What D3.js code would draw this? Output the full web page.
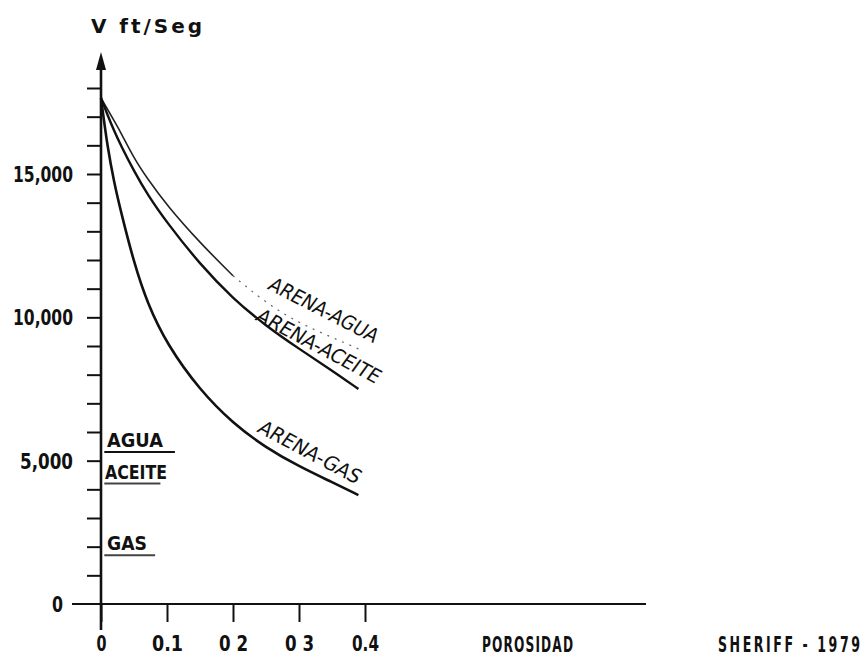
<!DOCTYPE html>
<html>
<head>
<meta charset="utf-8">
<script src="https://cdn.jsdelivr.net/npm/d3@7"></script>
<style>
  body { margin: 0; background: #fff; }
  text { font-family: "DejaVu Sans", sans-serif; fill: #111; }
</style>
</head>
<body>
<svg id="viz" width="868" height="665"></svg>
<script>
// porosity (fraction) and velocity (ft/seg)
var porosidad = [0, 0.01, 0.02, 0.03, 0.05, 0.07, 0.1, 0.15, 0.2, 0.25, 0.3, 0.35, 0.39];
var arenaAgua   = [17650, 17250, 16850, 16450, 15550, 14850, 13900, 12600, 11450, 10500, 9800, 9300, 8900];
var arenaAceite = [17650, 17050, 16500, 16000, 15100, 14300, 13300, 11850, 10650, 9700, 8900, 8150, 7500];
var arenaGas    = [17650, 15900, 14700, 13700, 11900, 10500, 9050, 7450, 6300, 5450, 4800, 4250, 3800];

// fluid velocities
var fluidos = ["AGUA", "ACEITE", "GAS"];
var fluidoVel = [5300, 4200, 1700];
var fluidoLargo = [0.112, 0.09, 0.082];

var xTicks = [0, 0.1, 0.2, 0.3, 0.4];
var xTickLabels = ["0", "0.1", "0 2", "0 3", "0.4"];
var yLabelTicks = [0, 5000, 10000, 15000];

var svg = d3.select("#viz");
var x = d3.scaleLinear().domain([0, 0.4]).range([101, 365]);
var y = d3.scaleLinear().domain([0, 15000]).range([604, 174]);
var ink = "#111";

// y axis: minor ticks every 1000
var yAxis = d3.axisLeft(y)
    .tickValues(d3.range(1000, 18001, 1000))
    .tickSize(14)
    .tickFormat("");
var gy = svg.append("g").attr("transform", "translate(" + x(0) + ",0)").call(yAxis);
gy.select(".domain").remove();
gy.selectAll(".tick line").attr("stroke", ink).attr("stroke-width", 2);

// y labels
svg.append("g").selectAll("text")
    .data(yLabelTicks)
    .enter().append("text")
    .attr("x", function (d) { return d === 0 ? 52 : (d < 10000 ? 20 : 13); })
    .attr("y", function (d) { return y(d) + 8; })
    .attr("textLength", function (d) { return d === 0 ? 11 : (d < 10000 ? 53 : 60); })
    .attr("lengthAdjust", "spacingAndGlyphs")
    .style("font-size", "22px")
    .style("font-weight", "bold")
    .text(function (d) { return d === 0 ? "0" : d3.format(",")(d); });

// y axis line and arrow
svg.append("line")
    .attr("x1", x(0)).attr("x2", x(0))
    .attr("y1", 630).attr("y2", 66)
    .attr("stroke", ink).attr("stroke-width", 2.6);
svg.append("path")
    .attr("d", "M" + x(0) + ",52 L" + (x(0) - 5) + ",70 L" + (x(0) + 5) + ",70 Z")
    .attr("fill", ink);

// x axis
var xLabW = [10, 31, 29, 29, 27];
var xAxis = d3.axisBottom(x)
    .tickValues(xTicks)
    .tickSize(18)
    .tickFormat(function (d, i) { return xTickLabels[i]; });
var gx = svg.append("g").attr("transform", "translate(0," + y(0) + ")").call(xAxis);
gx.select(".domain").remove();
gx.selectAll(".tick line").attr("stroke", ink).attr("stroke-width", 2);
gx.selectAll(".tick text")
    .attr("y", 47)
    .attr("dy", null)
    .attr("textLength", function (d, i) { return xLabW[i]; })
    .attr("lengthAdjust", "spacingAndGlyphs")
    .style("font-size", "21px")
    .style("font-weight", "bold")
    .style("font-family", "'DejaVu Sans', sans-serif")
    .attr("fill", ink);
svg.append("line")
    .attr("x1", 72).attr("x2", 646)
    .attr("y1", y(0)).attr("y2", y(0))
    .attr("stroke", ink).attr("stroke-width", 2);

// curves
var line = d3.line()
    .x(function (d) { return x(d[0]); })
    .y(function (d) { return y(d[1]); })
    .curve(d3.curveBasis);

function pts(vals) { return porosidad.map(function (p, i) { return [p, vals[i]]; }); }

var agua = pts(arenaAgua);
svg.append("path")
    .attr("d", line(agua.filter(function (d) { return d[0] <= 0.2; })))
    .attr("fill", "none").attr("stroke", "#222").attr("stroke-width", 1.6);
svg.append("path")
    .attr("d", line(agua.filter(function (d) { return d[0] >= 0.2; })))
    .attr("fill", "none").attr("stroke", "#666").attr("stroke-width", 1.2)
    .attr("stroke-dasharray", "2,6");
svg.append("path")
    .attr("d", line(pts(arenaAceite)))
    .attr("fill", "none").attr("stroke", ink).attr("stroke-width", 2.4);
svg.append("path")
    .attr("d", line(pts(arenaGas)))
    .attr("fill", "none").attr("stroke", ink).attr("stroke-width", 2.6);

// curve labels
var curveLabels = [
    { t: "ARENA-AGUA", cx: 324, cy: 310, a: 27, w: 120 },
    { t: "ARENA-ACEITE", cx: 319, cy: 346, a: 28, w: 137 },
    { t: "ARENA-GAS", cx: 310, cy: 452, a: 28, w: 113 }
];
svg.append("g").selectAll("text")
    .data(curveLabels)
    .enter().append("text")
    .attr("transform", function (d) { return "translate(" + d.cx + "," + d.cy + ") rotate(" + d.a + ") skewX(-8)"; })
    .attr("x", function (d) { return -d.w / 2; })
    .attr("dy", "0.35em")
    .attr("textLength", function (d) { return d.w; })
    .attr("lengthAdjust", "spacingAndGlyphs")
    .style("font-size", "20px")
    .text(function (d) { return d.t; });

// fluid lines
var fluidoTxtW = [56, 62, 40];
var fl = svg.append("g");
fl.selectAll("line")
    .data(fluidos)
    .enter().append("line")
    .attr("x1", x(0.005))
    .attr("x2", function (d, i) { return x(fluidoLargo[i]); })
    .attr("y1", function (d, i) { return y(fluidoVel[i]); })
    .attr("y2", function (d, i) { return y(fluidoVel[i]); })
    .attr("stroke", function (d, i) { return i === 0 ? ink : "#444"; })
    .attr("stroke-width", 2);
fl.selectAll("text")
    .data(fluidos)
    .enter().append("text")
    .attr("x", function (d, i) { return i === 1 ? 105 : 107; })
    .attr("y", function (d, i) { return y(fluidoVel[i]) - 5; })
    .attr("textLength", function (d, i) { return fluidoTxtW[i]; })
    .attr("lengthAdjust", "spacingAndGlyphs")
    .style("font-size", "20px")
    .style("font-weight", "bold")
    .text(function (d) { return d; });

// titles
svg.append("text")
    .attr("x", 91).attr("y", 33)
    .attr("textLength", 111)
    .attr("lengthAdjust", "spacing")
    .style("font-size", "20px")
    .style("font-weight", "bold")
    .text("V  ft/Seg");

// narrow, widely spaced lettering: squeeze horizontally, then spread
function narrowText(txt, x0, y0, w, sx) {
    svg.append("text")
        .attr("transform", "translate(" + x0 + "," + y0 + ") scale(" + sx + ",1)")
        .attr("textLength", w / sx)
        .attr("lengthAdjust", "spacing")
        .style("font-size", "21px")
        .style("font-weight", "bold")
        .text(txt);
}
narrowText("POROSIDAD", 482, 652, 91, 0.58);
narrowText("SHERIFF - 1979", 718, 652, 142, 0.6);
</script>
</body>
</html>
